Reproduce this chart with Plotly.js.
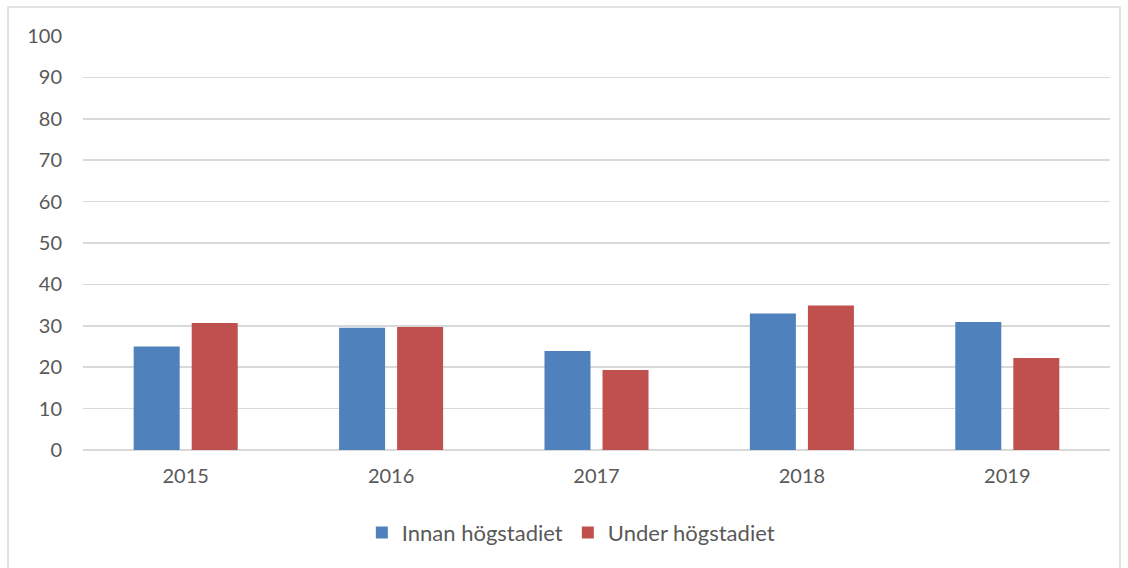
<!DOCTYPE html>
<html>
<head>
<meta charset="utf-8">
<script src="https://cdn.plot.ly/plotly-3.0.1.min.js"></script>
<style>
html,body{margin:0;padding:0;background:#fff;}
#chart{width:1128px;height:568px;}
</style>
</head>
<body>
<div id="chart"></div>
<script>
const years = ['2015', '2016', '2017', '2018', '2019'];
const seriesNames = ['Innan högstadiet', 'Under högstadiet'];
const innan = [25.0, 29.5, 23.9, 33.0, 30.9];
const under = [30.7, 29.7, 19.3, 34.9, 22.2];
const yTicks = [0, 10, 20, 30, 40, 50, 60, 70, 80, 90, 100];

const textColor = '#595959';
const gridColor = '#d9d9d9';
const font = {family: 'Lato, "Open Sans", sans-serif', size: 20, color: textColor};
const legendFont = {family: 'Lato, "Open Sans", sans-serif', size: 22, color: textColor};

const traces = [
  {type: 'bar', name: seriesNames[0], x: years, y: innan, marker: {color: '#4F81BD'}},
  {type: 'bar', name: seriesNames[1], x: years, y: under, marker: {color: '#C0504D'}}
];

const layout = {
  width: 1128, height: 568,
  margin: {l: 83, r: 18, t: 36, b: 118, pad: 0},
  paper_bgcolor: '#ffffff', plot_bgcolor: '#ffffff',
  font: font,
  barmode: 'group',
  bargap: 0.435,
  bargroupgap: 0.207,
  showlegend: true,
  legend: {orientation: 'h', x: 0.475, xanchor: 'center', y: -0.2, yanchor: 'middle',
           font: legendFont, itemwidth: 30, traceorder: 'normal'},
  xaxis: {type: 'category', showgrid: false, zeroline: false, showline: false,
          ticks: '', tickfont: font, ticklabelstandoff: 12},
  yaxis: {range: [0, 100], tickvals: yTicks, ticktext: yTicks.map(String),
          showgrid: true, gridcolor: gridColor, gridwidth: 1.5,
          zeroline: true, zerolinecolor: gridColor, zerolinewidth: 1.5,
          showline: false, ticks: '', tickfont: font, ticklabelstandoff: 20},
  shapes: [
    {type: 'rect', xref: 'paper', yref: 'paper', x0: -0.073, x1: 1.0097, y0: -0.32, y1: 1.070,
     line: {color: gridColor, width: 1.5}, fillcolor: 'rgba(0,0,0,0)', layer: 'below'}
  ]
};

Plotly.newPlot('chart', traces, layout, {displayModeBar: false, staticPlot: true});
</script>
</body>
</html>
